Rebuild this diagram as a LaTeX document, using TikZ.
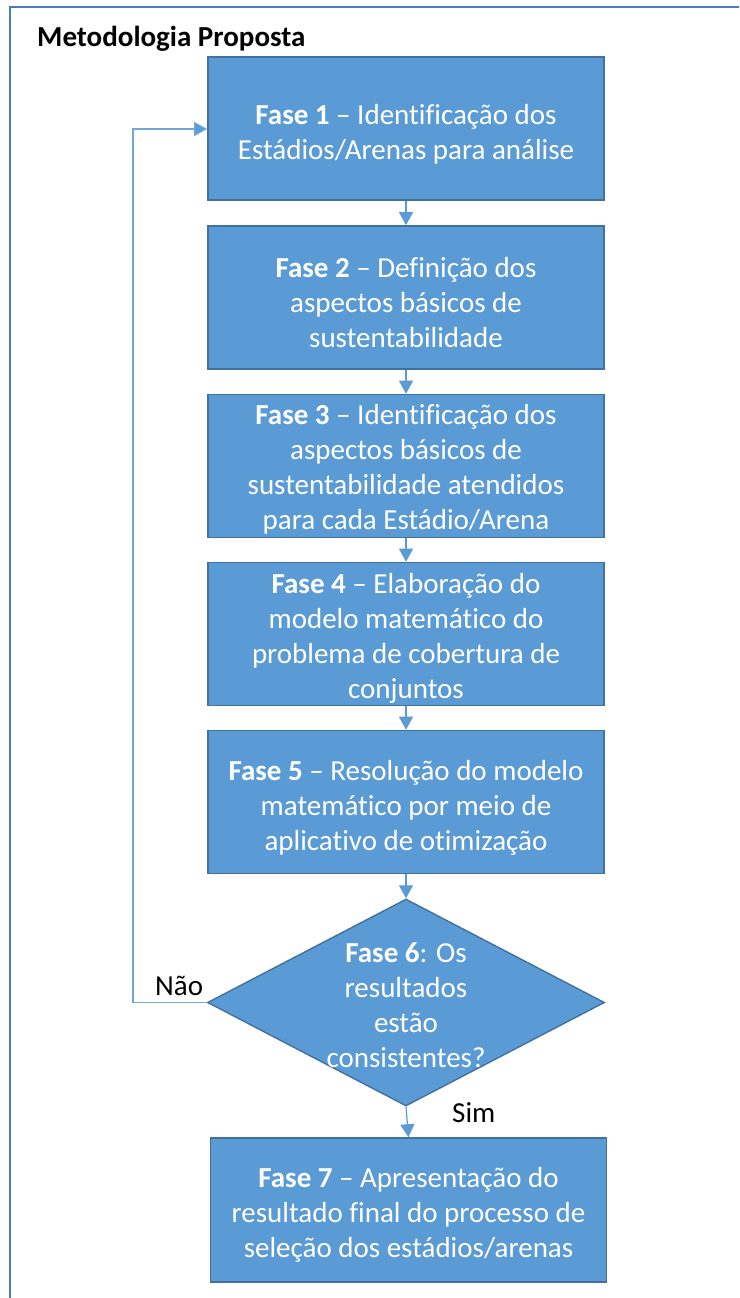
\documentclass[tikz,border=0pt]{standalone}
\usepackage{fontspec}
\setmainfont{Carlito}[Ligatures={NoCommon}]
\usetikzlibrary{arrows.meta,shapes.geometric}
\definecolor{boxfill}{HTML}{5B9BD5}
\definecolor{boxline}{HTML}{41719C}
\definecolor{frameline}{HTML}{4A7EBB}
\definecolor{loopline}{HTML}{6FA7DA}
\tikzset{
  phase/.style={draw=boxline, line width=1.6pt, fill=boxfill, minimum width=396pt, minimum height=143pt, inner sep=0pt},
  ptext/.style={text=white, align=center, font=\fontsize{29pt}{35pt}\selectfont, inner sep=0pt},
  decision/.style={diamond, draw=boxline, line width=1.4pt, fill=boxfill, minimum width=397pt, minimum height=207pt, inner sep=0pt},
  flow/.style={draw=boxfill, line width=1.2pt, -{Triangle[width=14pt,length=13pt]}},
  loopflow/.style={draw=loopline, line width=1.2pt, -{Triangle[width=14pt,length=13pt,fill=boxfill]}},
  lbl/.style={text=black, font=\fontsize{29pt}{34pt}\selectfont, inner sep=0pt},
}
\begin{document}
\begin{tikzpicture}[x=1pt,y=-1pt]
\useasboundingbox (0,0) rectangle (739,1298);
\begin{scope}
\clip (0,0) rectangle (739,1298);
\draw[frameline, line width=2pt] (9.5,7.5) rectangle (760,1320);
\end{scope}
\node[anchor=base west, font=\fontsize{29pt}{32pt}\selectfont\bfseries, inner sep=0pt] (title) at (37,47) {Metodologia Proposta};

\node[phase] (f1) at (406,128.5) {};
\node[phase] (f2) at (406,297.5) {};
\node[phase] (f3) at (406,466) {};
\node[phase] (f4) at (406,634) {};
\node[phase] (f5) at (406,802) {};
\node[decision] (f6) at (406,1002.5) {};
\node[phase, minimum height=144pt] (f7) at (408.5,1210) {};

\node[ptext] (t1) at ([yshift=-5.5pt]f1.center) {\textbf{Fase 1} – Identificação dos\\Estádios/Arenas para análise};
\node[ptext] (t2) at ([yshift=-5pt]f2.center) {\textbf{Fase 2} – Definição dos\\aspectos básicos de\\sustentabilidade};
\node[ptext] (t3) at ([yshift=-3.5pt]f3.center) {\textbf{Fase 3} – Identificação dos\\aspectos básicos de\\sustentabilidade atendidos\\para cada Estádio/Arena};
\node[ptext] (t4) at ([yshift=-4pt]f4.center) {\textbf{Fase 4} – Elaboração do\\modelo matemático do\\problema de cobertura de\\conjuntos};
\node[ptext] (t5) at ([yshift=-5.5pt]f5.center) {\textbf{Fase 5} – Resolução do modelo\\matemático por meio de\\aplicativo de otimização};
\node[ptext] (t6) at ([yshift=-2.5pt]f6.center) {\textbf{Fase 6}: Os\\resultados\\estão\\consistentes?};
\node[ptext] (t7) at ([yshift=-4.5pt]f7.center) {\textbf{Fase 7} – Apresentação do\\resultado final do processo de\\seleção dos estádios/arenas};

\draw[flow] (f1) -- (f2);
\draw[flow] (f2) -- (f3);
\draw[flow] (f3) -- (f4);
\draw[flow] (f4) -- (f5);
\draw[flow] (f5) -- (f6);
\draw[flow] (f6.south) -- (f7.north);
\coordinate (lb) at (133,1002.5);
\coordinate (lt) at (133,129);
\draw[loopflow] (f6.west) -- (lb) -- (lt) -- (f1.west |- lt);

\node[lbl, anchor=base west] (nao) at (155,995) {Não};
\node[lbl, anchor=base west] (sim) at (452,1122) {Sim};
\end{tikzpicture}
\end{document}
